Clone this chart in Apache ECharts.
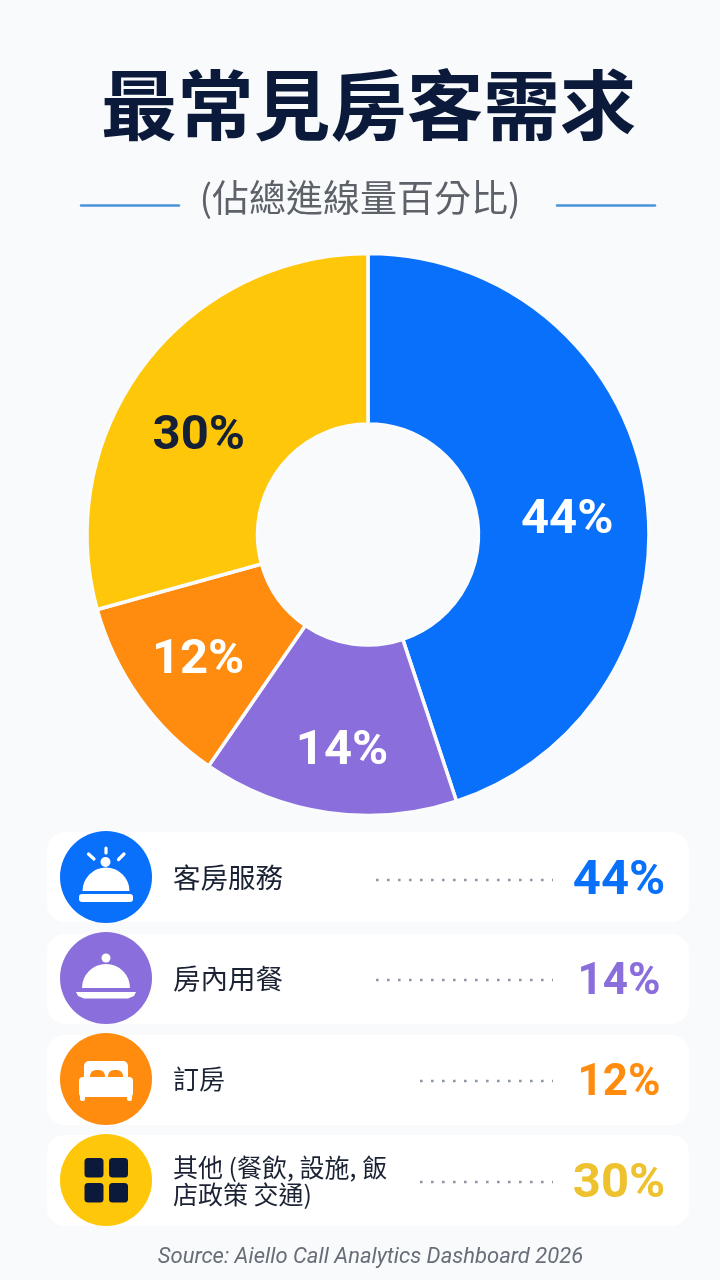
<!DOCTYPE html>
<html><head><meta charset="utf-8">
<style>html,body{margin:0;padding:0;background:#f8fafc}#c{width:720px;height:1280px}</style>
<script src="https://cdn.jsdelivr.net/npm/echarts@6/dist/echarts.min.js"></script>
</head><body><div id="c"></div>
<script>
const titleText = '最常見房客需求';
const subtitleText = '(佔總進線量百分比)';
const sourceText = 'Source: Aiello Call Analytics Dashboard 2026';
const categories = ['客房服務', '房內用餐', '訂房', '其他 (餐飲, 設施, 飯\n店政策 交通)'];
const percentLabels = [44, 14, 12, 30];
const sliceValues = [44.9, 14.7, 11.1, 29.3];
const colors = ['#0870fb', '#8a6edb', '#ff8c0f', '#ffc709'];
const valueColors = ['#0870fb', '#8a6edb', '#ff8c0f', '#edc22e'];
const labelColors = ['#ffffff', '#ffffff', '#ffffff', '#141f38'];
const labelOffsets = [[3, 18], [2, 20], [-8, 11], [-11, 23]];

const CJK = '"Noto Sans CJK TC","Noto Sans",sans-serif';
const NUM = 'Roboto,"Noto Sans",sans-serif';
const NAVY = '#0b1a3a';
const BG = '#f8fafc';
const rowTop = [832, 934, 1035, 1135];
const rowH = [90, 90, 90, 91];
const rowMid = [877, 978, 1079, 1180];
const dotY = [880, 980, 1081, 1182];
const dotStart = [376, 376, 420, 420];
const nameSize = [27.5, 27.5, 26, 25];
const valueSize = [49, 44, 44, 49];
const g = [];

g.push({type:'text',z:5,style:{text:titleText,x:368.5,y:105,align:'center',verticalAlign:'middle',font:'700 76.5px '+CJK,fill:NAVY}});
g.push({type:'text',z:5,style:{text:subtitleText,x:360,y:198,align:'center',verticalAlign:'middle',font:'400 37px '+CJK,fill:'#5d6269'}});
[[81,179],[557,655]].forEach(r=>g.push({type:'line',z:5,shape:{x1:r[0],y1:205.5,x2:r[1],y2:205.5},style:{stroke:'#4a92dc',lineWidth:2.5,lineCap:'round'}}));
g.push({type:'text',z:5,style:{text:sourceText,x:370.5,y:1257,align:'center',verticalAlign:'middle',font:'italic 400 22px Roboto,sans-serif',fill:'#686e78'}});

const W = '#ffffff';
const rect=(x,y,w,h,r,fill)=>({type:'rect',z:7,shape:{x,y,width:w,height:h,r},style:{fill}});
const circ=(cx,cy,r,fill)=>({type:'circle',z:7,shape:{cx,cy,r},style:{fill}});
const dome=(cx,cy,r,fill)=>({type:'sector',z:7,shape:{cx,cy,r,r0:0,startAngle:Math.PI,endAngle:2*Math.PI,clockwise:true},style:{fill}});
const ray=(x1,y1,x2,y2)=>({type:'line',z:7,shape:{x1,y1,x2,y2},style:{stroke:W,lineWidth:3.2,lineCap:'round'}});

const icons = [
  [ray(106,848,106,853),ray(88.5,854,94,859),ray(124,854,118.5,859.5),circ(105.5,862,5,W),dome(106,891,23.5,W),rect(79,894,54,8,3,W)],
  [circ(106,958,4.5,W),dome(106,988,24,W),{type:'polygon',z:7,shape:{points:[[76,992],[136,992],[134,996],[128,998.5],[84,998.5],[78,996]]},style:{fill:W}}],
  [rect(84,1061,44,20,5,W),rect(90,1070,15,12,[6,6,0,0],colors[2]),rect(108,1070,15,12,[6,6,0,0],colors[2]),rect(79,1077,54,20,4,W),rect(80,1094,5,7,2,W),rect(127,1094,5,7,2,W)],
  [rect(84.5,1158,19,19.5,3.5,NAVY),rect(109,1158,19,19.5,3.5,NAVY),rect(84.5,1183,19,19.5,3.5,NAVY),rect(109,1183,19,19.5,3.5,NAVY)]
];

categories.forEach((c,i)=>{
  const cy=rowMid[i];
  g.push({type:'rect',z:1,shape:{x:47,y:rowTop[i],width:642,height:rowH[i],r:18},style:{fill:'#ffffff'}});
  g.push({type:'circle',z:6,shape:{cx:106,cy:cy,r:46},style:{fill:colors[i]}});
  icons[i].forEach(e=>g.push(e));
  g.push({type:'text',z:6,style:{text:c,x:173,y:cy+(i===2?0:1),align:'left',verticalAlign:'middle',font:'400 '+nameSize[i]+'px '+CJK,lineHeight:27,fill:'#1a2233'}});
  g.push({type:'line',z:6,shape:{x1:dotStart[i],y1:dotY[i],x2:553,y2:dotY[i]},style:{stroke:'#8f96a5',lineWidth:2.6,lineDash:[2.6,8.4]}});
  g.push({type:'text',z:6,style:{text:percentLabels[i]+'%',x:619,y:cy+5,align:'center',verticalAlign:'middle',font:'700 '+valueSize[i]+'px '+NUM,fill:valueColors[i]}});
});

const chart = echarts.init(document.getElementById('c'),null,{renderer:'canvas'});
chart.setOption({
  backgroundColor:BG,
  animation:false,
  graphic:{elements:g},
  series:[{
    type:'pie',
    center:[368,534.5],
    radius:[110.5,281],
    startAngle:90,
    clockwise:true,
    silent:true,
    z:3,
    itemStyle:{borderColor:'#fafbfd',borderWidth:3.5},
    labelLine:{show:false},
    data:categories.map((c,i)=>({
      name:c,
      value:sliceValues[i],
      itemStyle:{color:colors[i]},
      label:{show:true,position:'inside',offset:labelOffsets[i],formatter:percentLabels[i]+'%',
        fontFamily:NUM,fontWeight:700,fontSize:49,color:labelColors[i]}
    }))
  }]
});
</script></body></html>
